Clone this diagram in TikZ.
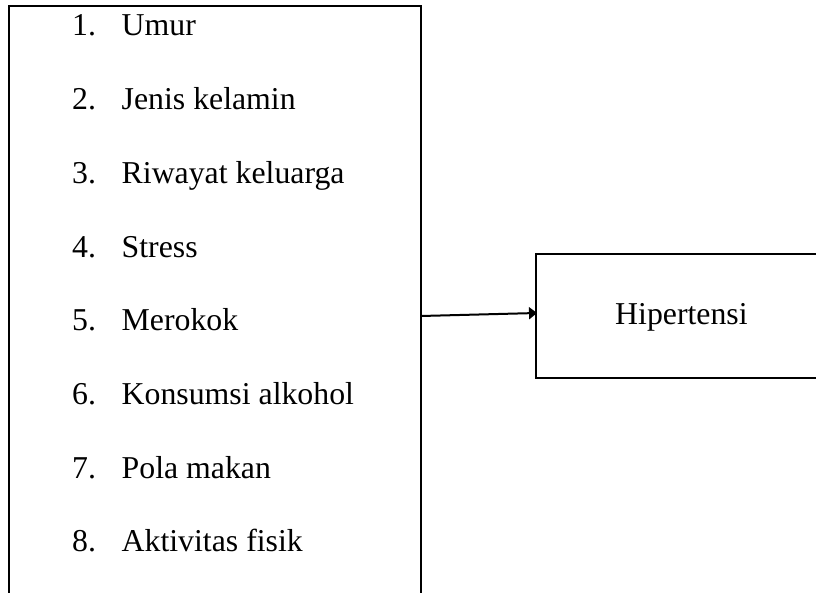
\documentclass[tikz,border=0pt]{standalone}
\usepackage{fontspec}
\setmainfont{Liberation Serif}
\usetikzlibrary{arrows.meta}
\begin{document}
\begin{tikzpicture}[x=1pt,y=-1pt,
  boxline/.style={line width=1.4pt},
  itemtxt/.style={anchor=base west,inner sep=0pt,font=\fontsize{31.8}{38}\selectfont},
  conn/.style={line width=2pt,-{Triangle[length=8pt,width=12pt]}}]
\useasboundingbox (0,0) rectangle (816,593);
\clip (0,0) rectangle (816,593);
% left box (open at bottom)
\draw[boxline] (9,620) -- (9,6) -- (421,6) -- (421,620);
\coordinate (lb) at (421,316);
% right box (open at right)
\draw[boxline] (830,254) -- (536,254) -- (536,378) -- (830,378);
\coordinate (rb) at (537,313);
\node[itemtxt] (h) at (615,325) {Hipertensi};
\foreach \n/\t [count=\i from 0] in {1/Umur,2/Jenis kelamin,3/Riwayat keluarga,4/Stress,5/Merokok,6/Konsumsi alkohol,7/Pola makan,8/Aktivitas fisik}{
  \node[itemtxt] (n\n) at (72,36+73.7*\i) {\n.};
  \node[itemtxt] (t\n) at (121.5,36+73.7*\i) {\t};
}
\draw[conn] (lb) -- (rb);
\end{tikzpicture}
\end{document}
